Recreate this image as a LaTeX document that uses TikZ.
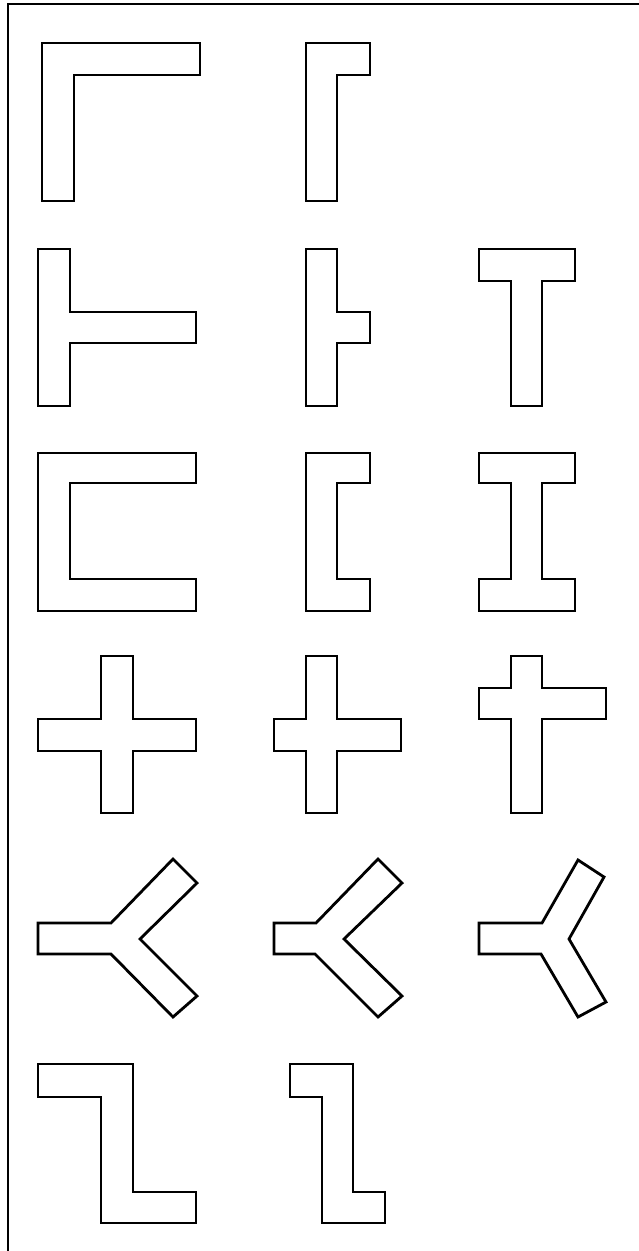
\documentclass[tikz,border=0pt]{standalone}
\begin{document}
\begin{tikzpicture}[x=1pt,y=-1pt,
  outline/.style={draw=black,line width=2.8pt,line join=miter},
  frameline/.style={draw=black,line width=1.2pt}]
\useasboundingbox (0,0) rectangle (639,1251);
\fill[white] (0,0) rectangle (639,1251);
% frame (top and left only visible)
\draw[frameline] (639,4) -- (8,4) -- (8,1251);
% row 1
\draw[outline] (42,43) -- (200,43) -- (200,75) -- (74,75) -- (74,201) -- (42,201) -- cycle;
\draw[outline] (306,43) -- (370,43) -- (370,75) -- (337,75) -- (337,201) -- (306,201) -- cycle;
% row 2
\draw[outline] (38,249) -- (70,249) -- (70,312) -- (196,312) -- (196,343) -- (70,343) -- (70,406) -- (38,406) -- cycle;
\draw[outline] (306,249) -- (337,249) -- (337,312) -- (370,312) -- (370,343) -- (337,343) -- (337,406) -- (306,406) -- cycle;
\draw[outline] (479,249) -- (575,249) -- (575,281) -- (542,281) -- (542,406) -- (511,406) -- (511,281) -- (479,281) -- cycle;
% row 3
\draw[outline] (38,453) -- (196,453) -- (196,483) -- (70,483) -- (70,579) -- (196,579) -- (196,611) -- (38,611) -- cycle;
\draw[outline] (306,453) -- (370,453) -- (370,483) -- (337,483) -- (337,579) -- (370,579) -- (370,611) -- (306,611) -- cycle;
\draw[outline] (479,453) -- (575,453) -- (575,483) -- (542,483) -- (542,579) -- (575,579) -- (575,611) -- (479,611) -- (479,579) -- (511,579) -- (511,483) -- (479,483) -- cycle;
% row 4
\draw[outline] (101,656) -- (133,656) -- (133,719) -- (196,719) -- (196,751) -- (133,751) -- (133,813) -- (101,813) -- (101,751) -- (38,751) -- (38,719) -- (101,719) -- cycle;
\draw[outline] (306,656) -- (337,656) -- (337,719) -- (401,719) -- (401,751) -- (337,751) -- (337,813) -- (306,813) -- (306,751) -- (274,751) -- (274,719) -- (306,719) -- cycle;
\draw[outline] (511,656) -- (542,656) -- (542,688) -- (606,688) -- (606,719) -- (542,719) -- (542,813) -- (511,813) -- (511,719) -- (479,719) -- (479,688) -- (511,688) -- cycle;
% row 5
\draw[outline] (38,923) -- (111,923) -- (173,859) -- (197,883) -- (140,939) -- (197,996) -- (173,1017) -- (111,954) -- (38,954) -- cycle;
\draw[outline] (274,923) -- (316,923) -- (378,859) -- (402,883) -- (344,939) -- (402,996) -- (378,1017) -- (315,954) -- (274,954) -- cycle;
\draw[outline] (479,923) -- (542,923) -- (578,860) -- (604,877) -- (569,939) -- (606,1002) -- (578,1017) -- (541,954) -- (479,954) -- cycle;
% row 6
\draw[outline] (38,1064) -- (133,1064) -- (133,1192) -- (196,1192) -- (196,1223) -- (101,1223) -- (101,1097) -- (38,1097) -- cycle;
\draw[outline] (290,1064) -- (353,1064) -- (353,1192) -- (385,1192) -- (385,1223) -- (322,1223) -- (322,1097) -- (290,1097) -- cycle;
\end{tikzpicture}
\end{document}
